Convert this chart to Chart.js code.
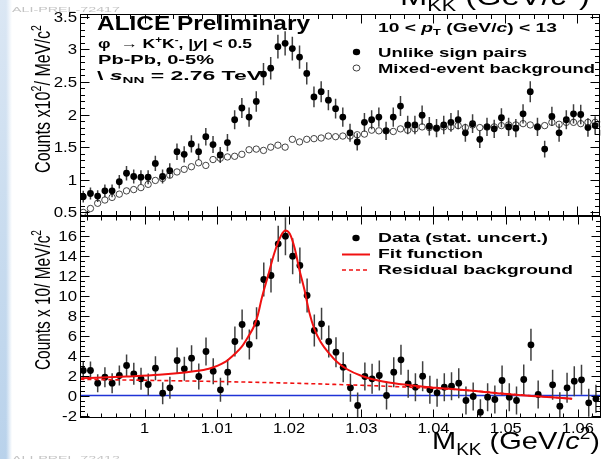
<!DOCTYPE html>
<html>
<head>
<meta charset="utf-8">
<title>phi to KK invariant mass, Pb-Pb 0-5%</title>
<script src="https://cdn.jsdelivr.net/npm/chart.js@4.4.1/dist/chart.umd.min.js"></script>
<style>
  html, body { margin: 0; padding: 0; background: #fff; }
  #page { position: relative; width: 605px; height: 459px; overflow: hidden; background: #fff; }
  #edge { position: absolute; left: 0; top: 0; width: 12px; height: 459px;
          background: linear-gradient(to right, rgba(255,255,255,0) 0px, rgba(255,255,255,0) 6px, #ffffff 12px),
                      linear-gradient(to bottom, #dbe7f4 0%, #c9dcef 50%, #b9d2eb 100%); }
  canvas { position: absolute; left: 0; top: 0; }
</style>
</head>
<body>
<div id="page">
  <div id="edge"></div>
  <canvas id="upper" width="605" height="459"></canvas>
  <canvas id="lower" width="605" height="459"></canvas>
</div>
<script>
// ---------------- data ----------------
// invariant-mass bin centres (GeV/c^2)
const massBins = [0.9915, 0.9925, 0.9935, 0.9945, 0.9955, 0.9965, 0.9975, 0.9985, 0.9995, 1.0005,
  1.0015, 1.0025, 1.0035, 1.0045, 1.0055, 1.0065, 1.0075, 1.0085, 1.0095, 1.0105,
  1.0115, 1.0125, 1.0135, 1.0145, 1.0155, 1.0165, 1.0175, 1.0185, 1.0195, 1.0205,
  1.0215, 1.0225, 1.0235, 1.0245, 1.0255, 1.0265, 1.0275, 1.0285, 1.0295, 1.0305,
  1.0315, 1.0325, 1.0335, 1.0345, 1.0355, 1.0365, 1.0375, 1.0385, 1.0395, 1.0405,
  1.0415, 1.0425, 1.0435, 1.0445, 1.0455, 1.0465, 1.0475, 1.0485, 1.0495, 1.0505,
  1.0515, 1.0525, 1.0535, 1.0545, 1.0555, 1.0565, 1.0575, 1.0585, 1.0595, 1.0605,
  1.0615, 1.0625, 1.0635];

// upper panel: counts x10^2 per MeV/c^2
const unlikeSign = [0.74, 0.79, 0.75, 0.83, 0.83, 0.97, 1.10, 1.05, 1.04, 1.04,
  1.25, 1.05, 1.14, 1.43, 1.39, 1.55, 1.43, 1.66, 1.54, 1.38,
  1.57, 1.92, 2.10, 1.96, 2.20, 2.62, 2.71, 3.04, 3.09, 3.01,
  2.88, 2.63, 2.27, 2.35, 2.22, 2.09, 1.96, 1.72, 1.58, 1.88,
  1.92, 1.96, 1.75, 1.96, 2.13, 1.84, 1.84, 1.99, 1.82, 1.79,
  1.84, 1.88, 1.92, 1.72, 1.86, 1.62, 1.81, 1.78, 1.95, 1.81,
  1.79, 2.01, 2.35, 1.81, 1.47, 1.97, 1.72, 1.92, 2.01, 2.00,
  1.80, 1.83, 1.72];
const unlikeSignErr = [0.090, 0.093, 0.091, 0.096, 0.096, 0.103, 0.110, 0.108, 0.107, 0.107,
  0.117, 0.108, 0.112, 0.126, 0.124, 0.131, 0.126, 0.135, 0.130, 0.123,
  0.132, 0.145, 0.152, 0.147, 0.156, 0.170, 0.173, 0.183, 0.185, 0.182,
  0.178, 0.170, 0.158, 0.161, 0.156, 0.152, 0.147, 0.138, 0.132, 0.144,
  0.145, 0.147, 0.139, 0.147, 0.153, 0.142, 0.142, 0.148, 0.142, 0.140,
  0.142, 0.144, 0.145, 0.138, 0.143, 0.134, 0.141, 0.140, 0.147, 0.141,
  0.140, 0.149, 0.161, 0.141, 0.127, 0.147, 0.138, 0.145, 0.149, 0.148,
  0.141, 0.142, 0.138];
const mixedEvent = [0.50, 0.56, 0.64, 0.69, 0.73, 0.78, 0.83, 0.85, 0.88, 0.93,
  0.99, 1.02, 1.07, 1.12, 1.16, 1.20, 1.26, 1.22, 1.31, 1.33,
  1.35, 1.36, 1.39, 1.46, 1.47, 1.45, 1.50, 1.53, 1.50, 1.62,
  1.58, 1.62, 1.63, 1.64, 1.67, 1.66, 1.67, 1.67, 1.69, 1.70,
  1.76, 1.75, 1.75, 1.74, 1.78, 1.76, 1.78, 1.81, 1.80, 1.79,
  1.81, 1.81, 1.83, 1.80, 1.84, 1.80, 1.81, 1.81, 1.83, 1.84,
  1.84, 1.86, 1.84, 1.81, 1.83, 1.88, 1.85, 1.88, 1.88, 1.86,
  1.88, 1.88, 1.85];

// lower panel: background-subtracted counts x10 per MeV/c^2
const signal = [2.50, 2.50, 1.23, 1.83, 1.23, 2.00, 3.00, 2.17, 1.67, 1.10,
  2.73, 0.23, 0.77, 3.50, 2.67, 3.73, 1.90, 4.40, 2.43, 0.57,
  2.33, 5.40, 7.10, 5.10, 7.23, 11.60, 12.00, 15.17, 15.93, 13.93,
  13.00, 10.00, 6.50, 7.17, 5.40, 4.33, 2.83, 0.77, -1.00, 1.90,
  1.67, 2.00, 0.00, 2.33, 3.57, 1.17, 0.83, 1.93, 0.57, 0.27,
  0.83, 0.93, 1.23, -0.50, -0.10, -1.67, -0.17, -0.40, 1.50, -0.17,
  -0.50, 1.60, 5.07, 0.10, -3.60, 1.07, -1.07, 0.77, 1.43, 1.57,
  -0.73, -0.33, -1.33];
const signalErr = [0.9, 0.9, 0.9, 1.0, 1.0, 1.0, 1.1, 1.1, 1.1, 1.1,
  1.2, 1.1, 1.1, 1.3, 1.2, 1.3, 1.3, 1.4, 1.3, 1.2,
  1.3, 1.5, 1.5, 1.5, 1.6, 1.7, 1.7, 1.8, 1.9, 1.8,
  1.8, 1.7, 1.6, 1.6, 1.6, 1.5, 1.5, 1.4, 1.3, 1.4,
  1.5, 1.5, 1.4, 1.5, 1.5, 1.4, 1.4, 1.5, 1.4, 1.4,
  1.4, 1.4, 1.5, 1.4, 1.4, 1.3, 1.4, 1.4, 1.5, 1.4,
  1.4, 1.5, 1.6, 1.4, 1.3, 1.5, 1.4, 1.5, 1.5, 1.5,
  1.4, 1.4, 1.4];

// fitted peak + residual background, sampled along the curve
const fitMass = [0.9912, 0.9975, 1.0020, 1.0066, 1.0089, 1.0111, 1.0125, 1.0134, 1.0143, 1.0152,
  1.0157, 1.0162, 1.0171, 1.0180, 1.0189, 1.0195, 1.0201, 1.0208, 1.0214, 1.0221,
  1.0228, 1.0235, 1.0244, 1.0256, 1.0267, 1.0281, 1.0299, 1.0317, 1.0336, 1.0359,
  1.0381, 1.0404, 1.0418, 1.0450, 1.0496, 1.0542, 1.0592];
const fitValue = [1.72, 1.90, 2.07, 2.40, 2.67, 3.33, 4.17, 4.83, 5.83, 7.00,
  8.10, 9.67, 12.00, 14.33, 16.00, 16.50, 16.17, 14.67, 12.67, 10.67,
  8.33, 6.67, 5.33, 4.17, 3.33, 2.60, 2.00, 1.60, 1.33, 1.10,
  0.93, 0.77, 0.70, 0.50, 0.17, -0.07, -0.33];
const residMass = [0.9911, 1.0000, 1.0100, 1.0200, 1.0300, 1.0400, 1.0450, 1.0500, 1.0550, 1.0592];
const residValue = [1.62, 1.52, 1.40, 1.24, 1.02, 0.72, 0.50, 0.18, -0.10, -0.33];

// axis ticks
const massTicks = [1, 1.01, 1.02, 1.03, 1.04, 1.05, 1.06];
const massTickLabels = ['1', '1.01', '1.02', '1.03', '1.04', '1.05', '1.06'];
const upperTicks = [0.5, 1, 1.5, 2, 2.5, 3, 3.5];
const upperTickLabels = ['0.5', '1', '1.5', '2', '2.5', '3', '3.5'];
const lowerTicks = [-2, 0, 2, 4, 6, 8, 10, 12, 14, 16];
const lowerTickLabels = ['-2', '0', '2', '4', '6', '8', '10', '12', '14', '16'];

// ---------------- drawing helpers ----------------
const FONT = '"Liberation Sans", Arial, Helvetica, sans-serif';
const X_MIN = 0.99105, X_MAX = 1.0632;

// draws a run of text pieces (with sub/superscripts); can be squeezed to a given width
function drawRich(ctx, segs, x, y, o) {
  ctx.save();
  ctx.translate(x, y);
  if (o.rotate) ctx.rotate(o.rotate);
  const size = o.size, weight = o.weight || 'normal';
  const parts = [];
  let total = 0;
  for (const s of segs) {
    const small = s.sub || s.sup;
    const sz = small ? size * 0.66 : size;
    const font = (s.italic ? 'italic ' : '') + weight + ' ' + sz.toFixed(1) + 'px ' + FONT;
    ctx.font = font;
    const w = ctx.measureText(s.t).width;
    parts.push({ t: s.t, font, w, dy: s.sub ? size * 0.24 : (s.sup ? -size * 0.42 : 0) });
    total += w;
  }
  const sx = o.width ? o.width / total : (o.sx || 1);
  let cx = 0;
  if (o.align === 'right') cx = -total;
  else if (o.align === 'center') cx = -total / 2;
  ctx.scale(sx, 1);
  ctx.fillStyle = o.color || '#000';
  ctx.textBaseline = 'alphabetic';
  ctx.textAlign = 'left';
  for (const p of parts) { ctx.font = p.font; ctx.fillText(p.t, cx, p.dy); cx += p.w; }
  ctx.restore();
}

function dot(ctx, x, y, r, filled) {
  ctx.beginPath();
  ctx.ellipse(x, y, r * 1.08, r * 0.95, 0, 0, Math.PI * 2);
  if (filled) { ctx.fillStyle = '#000'; ctx.fill(); }
  else { ctx.strokeStyle = '#111'; ctx.lineWidth = 0.8; ctx.stroke(); }
}

// vertical stat. error bars, drawn just before their own dataset
const errorBars = {
  id: 'errorBars',
  beforeDatasetDraw(chart, args) {
    const ds = chart.data.datasets[args.index];
    if (!ds.errors) return;
    const { ctx, chartArea: a, scales: { x, y } } = chart;
    ctx.save();
    ctx.beginPath();
    ctx.rect(a.left, a.top, a.right - a.left, a.bottom - a.top);
    ctx.clip();
    ctx.strokeStyle = '#404040';
    ctx.lineWidth = 1.5;
    ctx.beginPath();
    ds.data.forEach((p, i) => {
      const e = ds.errors[i];
      const px = x.getPixelForValue(p.x);
      ctx.moveTo(px, y.getPixelForValue(p.y - e));
      ctx.lineTo(px, y.getPixelForValue(p.y + e));
    });
    ctx.stroke();
    ctx.restore();
  }
};

// ROOT-style frame with inward ticks on all four sides plus tick labels
function frame(opts) {
  return {
    id: 'frame',
    afterDatasetsDraw(chart) {
      const { ctx, chartArea: a, scales: { x, y } } = chart;
      const L = Math.round(a.left) + 0.5, R = Math.round(a.right) - 0.5;
      const T = Math.round(a.top) + 0.5, B = Math.round(a.bottom) - 0.5;
      ctx.save();
      ctx.strokeStyle = '#000';
      ctx.lineWidth = 1;
      ctx.strokeRect(L, T, R - L, B - T);
      ctx.beginPath();
      const stepTicks = (min, max, minor, major, fn) => {
        for (let k = Math.ceil(min / minor - 1e-9); k <= Math.floor(max / minor + 1e-9); k++) {
          const v = k * minor;
          const r = v / major;
          fn(v, Math.abs(r - Math.round(r)) < 1e-6);
        }
      };
      stepTicks(x.min, x.max, 0.002, 0.01, (v, big) => {
        const px = Math.round(x.getPixelForValue(v)) + 0.5;
        const len = big ? opts.xMajor : opts.xMinor;
        ctx.moveTo(px, B); ctx.lineTo(px, B - len);
        ctx.moveTo(px, T); ctx.lineTo(px, T + len);
      });
      stepTicks(y.min, y.max, opts.yMinorStep, opts.yMajorStep, (v, big) => {
        const py = Math.round(y.getPixelForValue(v)) + 0.5;
        const len = big ? 9 : 4.5;
        ctx.moveTo(L, py); ctx.lineTo(L + len, py);
        ctx.moveTo(R, py); ctx.lineTo(R - len, py);
      });
      ctx.stroke();
      opts.yTicks.forEach((v, i) => {
        drawRich(ctx, [{ t: opts.yLabels[i] }], 77, y.getPixelForValue(v) + 5,
          { size: 14, sx: 1.2, align: 'right' });
      });
      if (opts.xTicks) {
        opts.xTicks.forEach((v, i) => {
          drawRich(ctx, [{ t: opts.xLabels[i] }], x.getPixelForValue(v), 433,
            { size: 15, sx: 1.1, align: 'center' });
        });
      }
      ctx.restore();
    }
  };
}

// text blocks, legends and axis titles
function annotations(draw) {
  return { id: 'annotations', afterDraw(chart) { const c = chart.ctx; c.save(); draw(c); c.restore(); } };
}

const pts = (xs, ys) => xs.map((m, i) => ({ x: m, y: ys[i] }));
const baseOptions = (padding, yMin, yMax) => ({
  responsive: false,
  animation: false,
  events: [],
  layout: { padding },
  scales: {
    x: { type: 'linear', min: X_MIN, max: X_MAX, display: false },
    y: { type: 'linear', min: yMin, max: yMax, display: false }
  },
  plugins: { legend: { display: false }, tooltip: { enabled: false } }
});

// ---------------- upper panel: same-event and mixed-event pairs ----------------
new Chart(document.getElementById('upper'), {
  type: 'scatter',
  data: {
    datasets: [
      { label: 'Mixed-event background', data: pts(massBins, mixedEvent), order: 0,
        pointRadius: 3.2, pointBackgroundColor: 'rgba(0,0,0,0)', pointBorderColor: '#151515', pointBorderWidth: 0.8 },
      { label: 'Unlike sign pairs', data: pts(massBins, unlikeSign), errors: unlikeSignErr, order: 1,
        pointRadius: 3.4, pointBackgroundColor: '#000', pointBorderWidth: 0 }
    ]
  },
  options: baseOptions({ left: 80, right: 0.5, top: 14, bottom: 459 - 216 }, 0.445, 3.54),
  plugins: [errorBars,
    frame({ xMajor: 9, xMinor: 4.5, yMinorStep: 0.1, yMajorStep: 0.5,
            yTicks: upperTicks, yLabels: upperTickLabels }),
    annotations(ctx => {
      drawRich(ctx, [{ t: 'ALI-PREL-72417' }], 12, 12, { size: 8, width: 108, color: '#c4c4c4' });
      drawRich(ctx, [{ t: 'M' }, { t: 'KK', sub: true }, { t: ' (GeV/' }, { t: 'c', italic: true }, { t: '2', sup: true }, { t: ')' }],
        400, 5, { size: 26, width: 190 });
      drawRich(ctx, [{ t: 'ALICE Preliminary' }], 97, 30, { size: 20, weight: 'bold', width: 213 });
      drawRich(ctx, [{ t: 'φ  → K' }, { t: '+', sup: true }, { t: 'K' }, { t: '-', sup: true }, { t: ', |' },
        { t: 'y', italic: true }, { t: '| < 0.5' }], 98, 48, { size: 13, weight: 'bold', width: 154 });
      drawRich(ctx, [{ t: 'Pb-Pb, 0-5%' }], 98, 64, { size: 13, weight: 'bold', width: 116 });
      drawRich(ctx, [{ t: '\\ ' }, { t: 's', italic: true }, { t: 'NN', sub: true }, { t: ' = 2.76 TeV' }],
        97, 80, { size: 13, weight: 'bold', width: 165 });
      drawRich(ctx, [{ t: '10 < ' }, { t: 'p', italic: true }, { t: 'T', sub: true }, { t: ' (GeV/' },
        { t: 'c', italic: true }, { t: ') < 13' }], 378, 32, { size: 13, weight: 'bold', width: 179 });
      dot(ctx, 356.5, 52, 3.4, true);
      drawRich(ctx, [{ t: 'Unlike sign pairs' }], 378, 56.5, { size: 13, weight: 'bold', width: 149 });
      dot(ctx, 356.5, 68, 3.2, false);
      drawRich(ctx, [{ t: 'Mixed-event background' }], 378, 72.5, { size: 13, weight: 'bold', width: 217 });
      drawRich(ctx, [{ t: 'Counts x10' }, { t: '2', sup: true }, { t: '/ MeV/c' }, { t: '2', sup: true }],
        50, 173, { size: 22, width: 148, rotate: -Math.PI / 2 });
    })
  ]
});

// ---------------- lower panel: background-subtracted signal with fit ----------------
new Chart(document.getElementById('lower'), {
  type: 'scatter',
  data: {
    datasets: [
      { label: 'Fit function', data: pts(fitMass, fitValue), order: 0, showLine: true,
        borderColor: '#f01010', borderWidth: 2, pointRadius: 0, cubicInterpolationMode: 'monotone' },
      { label: 'Residual background', data: pts(residMass, residValue), order: 1, showLine: true,
        borderColor: '#f01010', borderWidth: 1.6, borderDash: [4, 3], pointRadius: 0, cubicInterpolationMode: 'monotone' },
      { label: 'Data (stat. uncert.)', data: pts(massBins, signal), errors: signalErr, order: 2,
        pointRadius: 3.4, pointBackgroundColor: '#000', pointBorderWidth: 0 },
      { label: 'zero', data: [{ x: X_MIN, y: 0 }, { x: X_MAX, y: 0 }], order: 3, showLine: true,
        borderColor: '#1f33d6', borderWidth: 1.4, pointRadius: 0 }
    ]
  },
  options: baseOptions({ left: 80, right: 0.5, top: 216, bottom: 459 - 418 }, -2.25, 17.95),
  plugins: [errorBars,
    frame({ xMajor: 8, xMinor: 4, yMinorStep: 0.5, yMajorStep: 2,
            yTicks: lowerTicks, yLabels: lowerTickLabels, xTicks: massTicks, xLabels: massTickLabels }),
    annotations(ctx => {
      dot(ctx, 356, 238, 3.4, true);
      drawRich(ctx, [{ t: 'Data (stat. uncert.)' }], 378, 241.5, { size: 13, weight: 'bold', width: 170 });
      ctx.strokeStyle = '#f01010';
      ctx.lineWidth = 2;
      ctx.beginPath(); ctx.moveTo(342, 254.5); ctx.lineTo(370, 254.5); ctx.stroke();
      drawRich(ctx, [{ t: 'Fit function' }], 378, 257.5, { size: 13, weight: 'bold', width: 105 });
      ctx.lineWidth = 1.6;
      ctx.setLineDash([4, 3]);
      ctx.beginPath(); ctx.moveTo(342, 270); ctx.lineTo(370, 270); ctx.stroke();
      ctx.setLineDash([]);
      drawRich(ctx, [{ t: 'Residual background' }], 378, 274, { size: 13, weight: 'bold', width: 195 });
      drawRich(ctx, [{ t: 'Counts x 10/ MeV/c' }, { t: '2', sup: true }],
        50, 370, { size: 22, width: 140, rotate: -Math.PI / 2 });
      drawRich(ctx, [{ t: 'M' }, { t: 'KK', sub: true }, { t: ' (GeV/' }, { t: 'c', italic: true }, { t: '2', sup: true }, { t: ')' }],
        432, 449, { size: 24, width: 168 });
      drawRich(ctx, [{ t: 'ALI-PREL-72412' }], 12, 461, { size: 8, width: 108, color: '#c4c4c4' });
    })
  ]
});
</script>
</body>
</html>
